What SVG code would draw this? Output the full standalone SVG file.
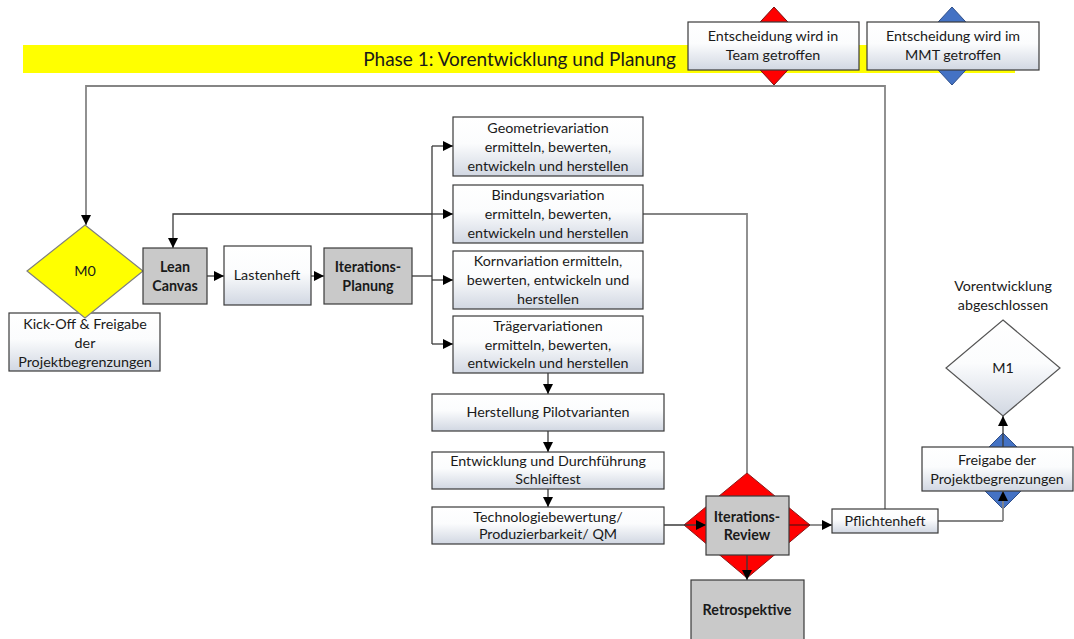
<svg xmlns="http://www.w3.org/2000/svg" width="1074" height="639" viewBox="0 0 1074 639">
<defs>
<linearGradient id="gb" x1="0" y1="0" x2="0" y2="1">
<stop offset="0" stop-color="#ffffff"/>
<stop offset="0.45" stop-color="#fbfcfd"/>
<stop offset="1" stop-color="#d1d7e2"/>
</linearGradient>
<marker id="ah" viewBox="0 0 10 10" refX="10" refY="5" markerWidth="11" markerHeight="10" markerUnits="userSpaceOnUse" orient="auto">
<path d="M0,0 L10,5 L0,10 z" fill="#000"/>
</marker>
<style>
text{font-family:Lato,"Open Sans","Liberation Sans",sans-serif;font-size:14.3px;fill:#1a1a1a;text-anchor:middle}
.b{font-weight:bold}
.box{fill:url(#gb);stroke:#3a3a3a;stroke-width:1.2}
.gray{fill:#c9c9c9;stroke:#3a3a3a;stroke-width:1.2}
.c{fill:none;stroke:#3a3a3a;stroke-width:1.3}
.cg{fill:none;stroke:#858585;stroke-width:1.8}
.a{marker-end:url(#ah)}
</style>
</defs>
<rect width="1074" height="639" fill="#fff"/>

<g id="phase-band">
<rect x="23" y="45" width="992" height="28" fill="#ffff00"/>
<text x="676" y="66" style="text-anchor:end;font-size:19px">Phase 1: Vorentwicklung und Planung</text>
</g>

<g id="legend-team">
<polygon points="774,7 810,46 774,85 738,46" fill="#ff0000" stroke="#7a1010" stroke-width="1"/>
<rect x="688" y="22" width="171" height="48" class="box"/>
<text x="773" y="41">Entscheidung wird in</text>
<text x="773" y="60">Team getroffen</text>
</g>
<g id="legend-mmt">
<polygon points="952,7 988,46 952,85 916,46" fill="#4472c4" stroke="#2f4f8a" stroke-width="1"/>
<rect x="867" y="22" width="172" height="48" class="box"/>
<text x="953" y="41">Entscheidung wird im</text>
<text x="953" y="60">MMT getroffen</text>
</g>

<g id="connectors">
<polyline points="885,509 885,86 86,86 86,225" class="cg a"/>
<line x1="207" y1="276" x2="224" y2="276" class="c a"/>
<line x1="311" y1="276" x2="324" y2="276" class="c a"/>
<polyline points="412,276 432,276" class="c"/>
<line x1="432" y1="146" x2="432" y2="344" class="c"/>
<line x1="432" y1="146" x2="453" y2="146" class="c a"/>
<line x1="432" y1="214" x2="453" y2="214" class="c a"/>
<line x1="432" y1="280" x2="453" y2="280" class="c a"/>
<line x1="432" y1="344" x2="453" y2="344" class="c a"/>
<polyline points="432,214 173,214 173,248" class="c a"/>
<line x1="548" y1="373" x2="548" y2="394" class="c a"/>
<line x1="548" y1="431" x2="548" y2="452" class="c a"/>
<line x1="548" y1="489" x2="548" y2="507" class="c a"/>
<polyline points="643,214 747,214 747,473" class="cg"/>
<line x1="938" y1="521" x2="1003" y2="521" class="cg"/>
</g>

<g id="m0">
<rect x="9" y="313" width="151" height="58" class="box"/>
<text x="85" y="329">Kick-Off &amp; Freigabe</text>
<text x="85" y="348">der</text>
<text x="85" y="367">Projektbegrenzungen</text>
<polygon points="85,225 143,271 85,318 27,271" fill="#ffff00" stroke="#7f7f7f" stroke-width="1.2"/>
<text x="85" y="276">M0</text>
</g>

<g id="lean-canvas">
<rect x="143" y="248" width="64" height="56" class="gray"/>
<text x="175" y="272" class="b">Lean</text>
<text x="175" y="291" class="b">Canvas</text>
</g>

<g id="lastenheft">
<rect x="224" y="246" width="87" height="59" class="box"/>
<text x="267" y="280">Lastenheft</text>
</g>

<g id="iterations-planung">
<rect x="324" y="248" width="88" height="56" class="gray"/>
<text x="368" y="272" class="b">Iterations-</text>
<text x="368" y="291" class="b">Planung</text>
</g>

<g id="geometrie">
<rect x="453" y="117" width="190" height="59" class="box"/>
<text x="548" y="133">Geometrievariation</text>
<text x="548" y="152">ermitteln, bewerten,</text>
<text x="548" y="171">entwickeln und herstellen</text>
</g>
<g id="bindung">
<rect x="453" y="185" width="190" height="58" class="box"/>
<text x="548" y="200">Bindungsvariation</text>
<text x="548" y="219">ermitteln, bewerten,</text>
<text x="548" y="238">entwickeln und herstellen</text>
</g>
<g id="korn">
<rect x="453" y="251" width="190" height="58" class="box"/>
<text x="548" y="266">Kornvariation ermitteln,</text>
<text x="548" y="285">bewerten, entwickeln und</text>
<text x="548" y="304">herstellen</text>
</g>
<g id="traeger">
<rect x="453" y="316" width="190" height="57" class="box"/>
<text x="548" y="331">Trägervariationen</text>
<text x="548" y="350">ermitteln, bewerten,</text>
<text x="548" y="368">entwickeln und herstellen</text>
</g>

<g id="herstellung">
<rect x="432" y="394" width="232" height="37" class="box"/>
<text x="548" y="417">Herstellung Pilotvarianten</text>
</g>
<g id="entwicklung">
<rect x="432" y="452" width="232" height="37" class="box"/>
<text x="548" y="466">Entwicklung und Durchführung</text>
<text x="548" y="484">Schleiftest</text>
</g>
<g id="technologie">
<rect x="432" y="507" width="232" height="37" class="box"/>
<text x="548" y="522">Technologiebewertung/</text>
<text x="548" y="539">Produzierbarkeit/ QM</text>
</g>

<g id="iterations-review">
<polygon points="747,473 810,525 747,578 684,525" fill="#ff0000" stroke="#8a1a1a" stroke-width="1"/>
<line x1="664" y1="525" x2="706" y2="525" class="c a"/>
<line x1="789" y1="525" x2="810" y2="525" stroke="#5a1010" stroke-width="1.2"/>
<line x1="810" y1="525" x2="832" y2="525" class="cg a"/>
<line x1="747" y1="555" x2="747" y2="580" class="c a"/>
<rect x="706" y="496" width="83" height="59" class="gray"/>
<text x="747" y="522" class="b">Iterations-</text>
<text x="747" y="540" class="b">Review</text>
</g>

<g id="retrospektive">
<rect x="691" y="580" width="113" height="70" class="gray"/>
<text x="747" y="615" class="b">Retrospektive</text>
</g>

<g id="pflichtenheft">
<rect x="832" y="509" width="106" height="24" class="box"/>
<text x="885" y="526">Pflichtenheft</text>
</g>

<g id="freigabe">
<polygon points="1003,433 1041,471 1003,509 965,471" fill="#4472c4" stroke="#2f4f8a" stroke-width="1"/>
<line x1="1003" y1="521" x2="1003" y2="491" class="cg a"/>
<line x1="1003" y1="447" x2="1003" y2="416" class="c a"/>
<rect x="922" y="447" width="151" height="44" class="box"/>
<text x="997" y="465">Freigabe der</text>
<text x="997" y="484">Projektbegrenzungen</text>
</g>

<g id="m1">
<text x="1003" y="291">Vorentwicklung</text>
<text x="1003" y="310">abgeschlossen</text>
<polygon points="1003,320 1060,368 1003,416 946,368" fill="url(#gb)" stroke="#555" stroke-width="1.2"/>
<text x="1003" y="373">M1</text>
</g>
</svg>
